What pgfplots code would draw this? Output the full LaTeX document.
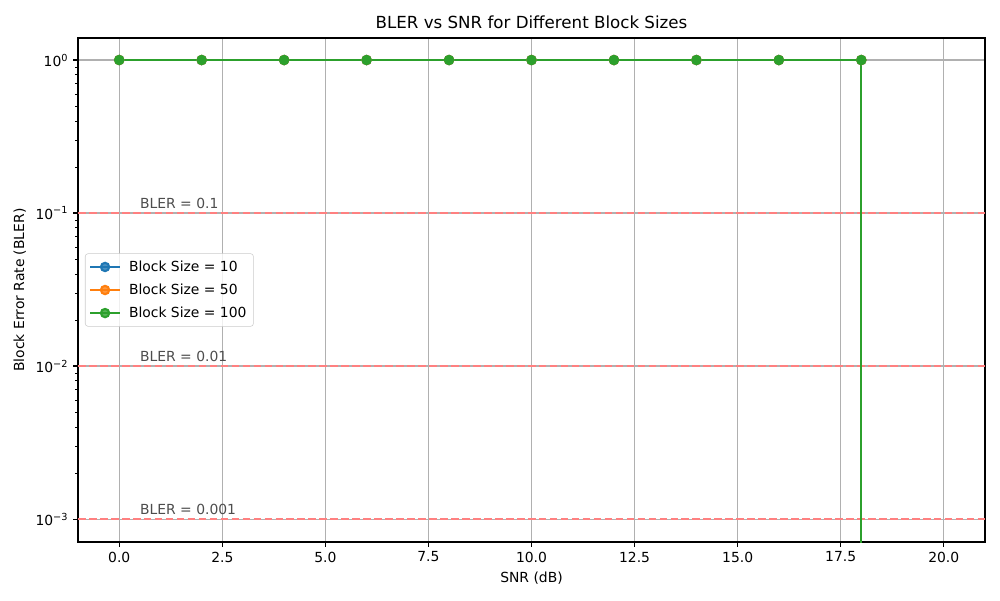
\documentclass[border=0pt]{standalone}
\usepackage{fontspec}
\setmainfont{DejaVu Sans}
\usepackage{pgfplots}
\pgfplotsset{compat=1.18}
\definecolor{c0}{HTML}{1F77B4}
\definecolor{c1}{HTML}{FF7F0E}
\definecolor{c2}{HTML}{2CA02C}
\definecolor{gridc}{HTML}{B0B0B0}
\definecolor{thr}{HTML}{FF8080}
\definecolor{annot}{HTML}{4D4D4D}
\begin{document}
\begin{tikzpicture}
\path[use as bounding box] (-56.16pt,-41.76pt) rectangle (663.84pt,390.24pt);
\begin{axis}[
  at={(0,0)}, anchor=south west,
  scale only axis, width=653.04pt, height=362.88pt,
  xmin=-1, xmax=21,
  ymode=log, ymin=7.08e-4, ymax=1.393,
  xtick={0,2.5,5,7.5,10,12.5,15,17.5,20},
  xticklabel style={/pgf/number format/.cd, fixed, fixed zerofill, precision=1},
  /pgf/number format/assume math mode=true,
  ytick={1e-3,1e-2,1e-1,1},
  yticklabels={10\textsuperscript{−3},10\textsuperscript{−2},10\textsuperscript{−1},10\textsuperscript{0}},
  tick label style={font=\fontsize{10}{12}\selectfont, text=black},
  tick align=outside,
  major tick length=3.5pt, minor tick length=2pt,
  every tick/.style={black, line width=0.8pt},
  minor tick style={line width=0.6pt},
  xtick pos=bottom, ytick pos=left,
  axis line style={line width=0.8pt},
  grid=major,
  major grid style={gridc, line width=0.8pt},
  xlabel={SNR (dB)}, ylabel={Block Error Rate (BLER)},
  label style={font=\fontsize{10}{12}\selectfont},
  title={BLER vs SNR for Different Block Sizes},
  title style={font=\fontsize{12}{14}\selectfont, yshift=-2.5pt},
  legend style={at={(0.0077,0.5)}, anchor=west, font=\fontsize{10}{12}\selectfont,
    draw=black!20, rounded corners=2pt, fill=white, fill opacity=0.8, text opacity=1,
    row sep=3.5pt, inner xsep=3pt, inner ysep=3pt},
  legend cell align=left,
  legend image code/.code={\draw[#1, mark=none] (0pt,0pt) -- (21pt,0pt);
     \draw[#1, only marks] plot coordinates {(10.5pt,0pt)};
     \path (25pt,0pt);},
]
\addplot[thr, dash pattern=on 5.5pt off 2.4pt, line width=1.3pt, forget plot] coordinates {(-1,0.1) (21,0.1)};
\addplot[thr, dash pattern=on 5.5pt off 2.4pt, line width=1.3pt, forget plot] coordinates {(-1,0.01) (21,0.01)};
\addplot[thr, dash pattern=on 5.5pt off 2.4pt, line width=1.3pt, forget plot] coordinates {(-1,0.001) (21,0.001)};
\node[anchor=base west, inner sep=0pt, text=annot, font=\fontsize{10}{12}\selectfont] at (axis cs:0.5,0.107) {BLER = 0.1};
\node[anchor=base west, inner sep=0pt, text=annot, font=\fontsize{10}{12}\selectfont] at (axis cs:0.5,0.0107) {BLER = 0.01};
\node[anchor=base west, inner sep=0pt, text=annot, font=\fontsize{10}{12}\selectfont] at (axis cs:0.5,0.00107) {BLER = 0.001};
\addplot[c0, line width=1.5pt, mark=*, mark size=3pt, mark options={solid, fill=c0, draw=c0}] coordinates {
(0,1) (2,1) (4,1) (6,1) (8,1) (10,1) (12,1) (14,1) (16,1) (18,1) (18,1e-4)};
\addlegendentry{Block Size = 10}
\addplot[c1, line width=1.5pt, mark=*, mark size=3pt, mark options={solid, fill=c1, draw=c1}] coordinates {
(0,1) (2,1) (4,1) (6,1) (8,1) (10,1) (12,1) (14,1) (16,1) (18,1) (18,1e-4)};
\addlegendentry{Block Size = 50}
\addplot[c2, line width=1.5pt, mark=*, mark size=3pt, mark options={solid, fill=c2, draw=c2}] coordinates {
(0,1) (2,1) (4,1) (6,1) (8,1) (10,1) (12,1) (14,1) (16,1) (18,1) (18,1e-4)};
\addlegendentry{Block Size = 100}
\end{axis}
\end{tikzpicture}
\end{document}
